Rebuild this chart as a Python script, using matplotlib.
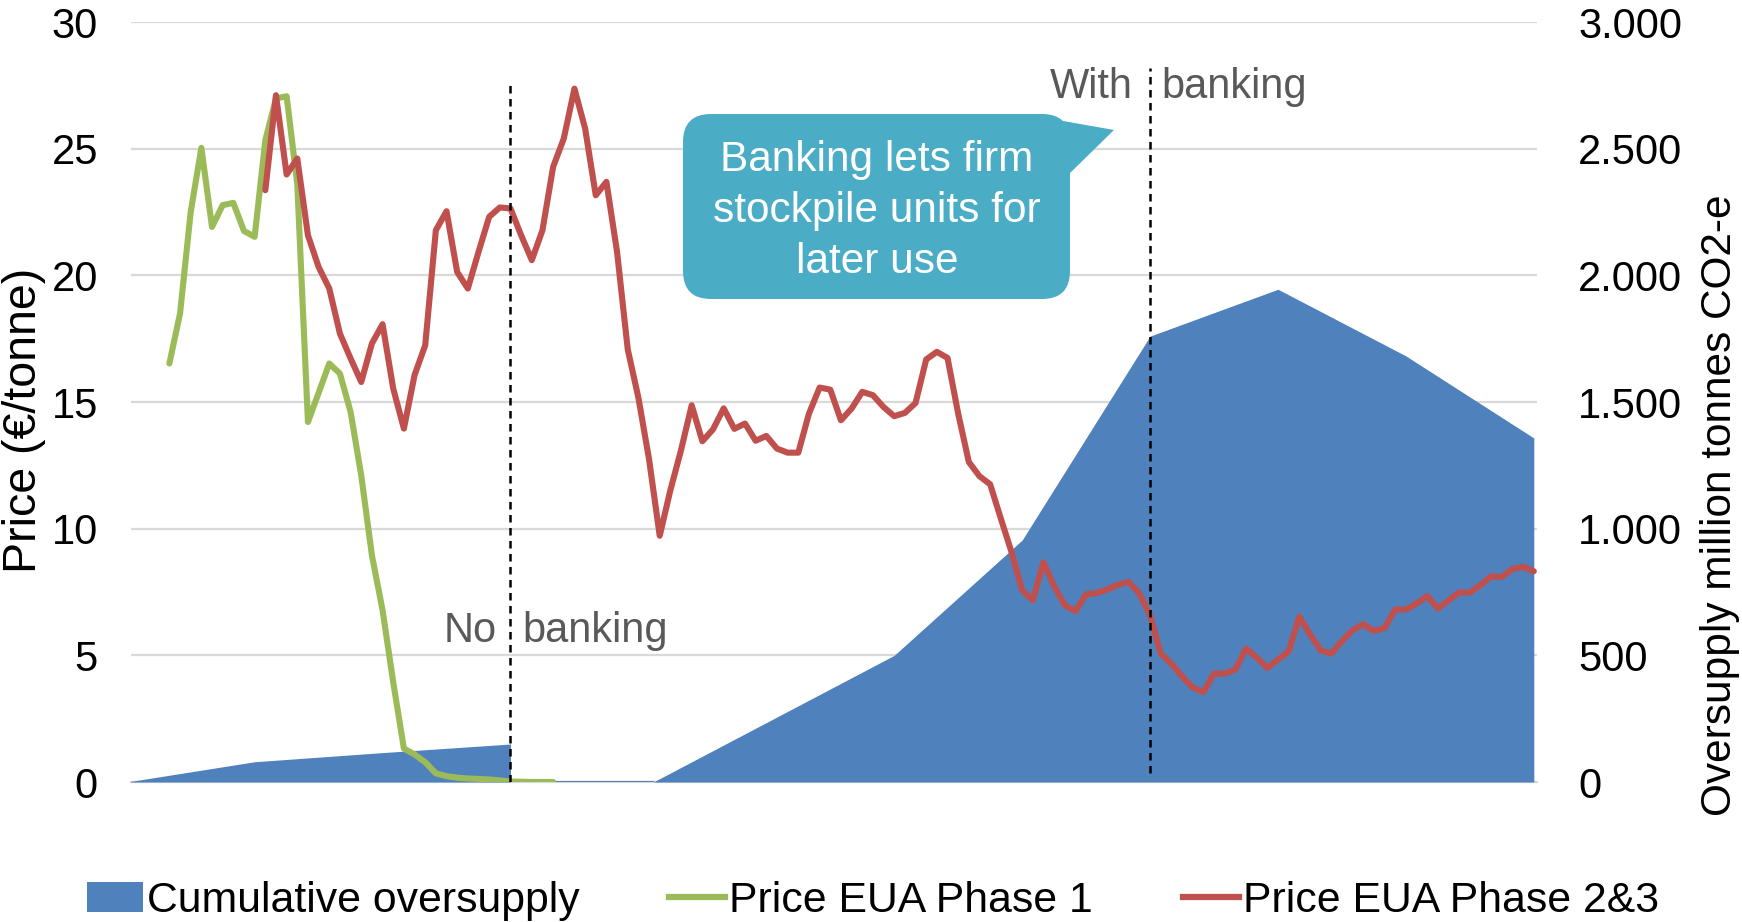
import matplotlib
matplotlib.use("Agg")
import matplotlib.pyplot as plt
from matplotlib.patches import FancyBboxPatch, Polygon, Patch
from matplotlib.lines import Line2D

plt.rcParams['font.family'] = ['Liberation Sans', 'DejaVu Sans']

# x axis: month index, 0 = first Phase 1 observation
year_labels = [str(y) for y in range(2005, 2016)]
year_ticks = [1 + 12 * k for k in range(len(year_labels))]

# Price EUA Phase 1 (EUR/tonne), monthly
phase1_start = 0
phase1 = [16.52, 18.49, 22.50, 25.03, 21.91, 22.77, 22.86, 21.75, 21.52, 25.33,
          26.98, 27.07, 23.6, 14.21, 15.36, 16.52, 16.12, 14.61, 12.1, 8.95,
          6.78, 3.94, 1.32, 1.09, 0.78, 0.34, 0.23, 0.17, 0.14, 0.12,
          0.10, 0.06, 0.02, 0.01, 0.0, 0.0, 0.0]

# Price EUA Phase 2&3 (EUR/tonne), monthly
phase23_start = 9
phase23 = [23.36, 27.11, 23.98, 24.61, 21.58, 20.33, 19.48, 17.70, 16.72, 15.79,
           17.31, 18.07, 15.53, 13.95, 16.06, 17.24, 21.78, 22.53, 20.13, 19.48,
           20.92, 22.31, 22.68, 22.64, 21.58, 20.60, 21.78, 24.28, 25.40, 27.37,
           25.80, 23.16, 23.69, 20.92, 17.08, 15.17, 12.74, 9.72, 11.52, 13.10,
           14.87, 13.45, 13.92, 14.75, 13.94, 14.15, 13.47, 13.66, 13.16, 13.00,
           13.00, 14.54, 15.57, 15.49, 14.28, 14.74, 15.40, 15.27, 14.80, 14.44,
           14.57, 14.96, 16.68, 16.98, 16.74, 14.54, 12.63, 12.07, 11.75, 10.40,
           9.08, 7.57, 7.17, 8.67, 7.73, 6.98, 6.74, 7.41, 7.46, 7.60,
           7.79, 7.90, 7.44, 6.58, 5.07, 4.67, 4.17, 3.73, 3.55, 4.28,
           4.28, 4.44, 5.27, 4.91, 4.50, 4.83, 5.15, 6.53, 5.83, 5.20,
           5.07, 5.57, 5.99, 6.23, 5.96, 6.08, 6.81, 6.81, 7.04, 7.34,
           6.85, 7.17, 7.48, 7.48, 7.77, 8.12, 8.09, 8.41, 8.49, 8.32]

# Cumulative oversupply (million tonnes CO2-e)
oversupply_month = [-4, 8, 20, 32, 32, 45.4, 68, 80, 92, 104, 116, 128]
oversupply = [0, 80, 116, 150, 0, 0, 500, 955, 1760, 1945, 1682, 1358]

# regime change markers (month index)
breaks = [32, 92]

BLUE = '#4F81BD'
GREEN = '#9BBB59'
RED = '#C0504D'
TEAL = '#4BACC6'
GRID = '#D9D9D9'
NOTE = '#595959'

W, H = 1742, 922
fig = plt.figure(figsize=(W / 100, H / 100), dpi=100)
ax2 = fig.add_axes([131 / W, 1 - 782 / H, (1537 - 131) / W, (782 - 22) / H])
ax = ax2.twinx()
ax.set_zorder(ax2.get_zorder() + 1)
ax.patch.set_visible(False)

# area on right axis, grid behind it
ax2.fill_between(oversupply_month, oversupply, 0, color=BLUE, lw=0, zorder=2)
ax2.plot([32, 45.4], [0, 0], color=BLUE, lw=1.5, zorder=2)
ax2.set_ylim(0, 3000)
ax2.set_yticks(range(0, 3001, 500))
ax2.grid(axis='y', color=GRID, lw=1.6)
ax2.set_axisbelow(True)

x1 = [phase1_start + i for i in range(len(phase1))]
x23 = [phase23_start + i for i in range(len(phase23))]
ax.plot(x1, phase1, color=GREEN, lw=4.4, solid_joinstyle='round', solid_capstyle='round', zorder=3)
ax.plot(x23, phase23, color=RED, lw=4.4, solid_joinstyle='round', solid_capstyle='round', zorder=4)
ax.set_ylim(0, 30)
ax.set_yticks(range(0, 31, 5))
ax.set_xlim(-3.6, 128.3)
ax2.set_xlim(-3.6, 128.3)

ax.vlines(breaks[0], 0, 27.64, colors='black', linestyles=(0, (3, 2.2)), lw=1.8, zorder=5)
ax.vlines(breaks[1], 0.34, 28.2, colors='black', linestyles=(0, (3, 2.2)), lw=1.8, zorder=5)

ax.text(30.74, 5.52, 'No', ha='right', va='baseline', fontsize=30, color=NOTE, zorder=6)
ax.text(33.09, 5.52, 'banking', ha='left', va='baseline', fontsize=30, color=NOTE, zorder=6)
ax.text(90.4, 26.99, 'With', ha='right', va='baseline', fontsize=30, color=NOTE, zorder=6)
ax.text(93.03, 26.99, 'banking', ha='left', va='baseline', fontsize=30, color=NOTE, zorder=6)

# axes styling: left labels = price, right labels = oversupply
ax2.set_xticks(year_ticks)
ax2.set_xticklabels(year_labels)
ax2.yaxis.tick_right()
ax2.set_yticklabels(['0', '500', '1.000', '1.500', '2.000', '2.500', '3.000'])
ax.yaxis.tick_left()
ax.set_yticklabels([str(v) for v in range(0, 31, 5)])
ax.set_xticks([])
ax2.tick_params(axis='x', length=0, pad=21, labelsize=30)
ax2.tick_params(axis='y', length=0, pad=29.5, labelsize=30)
ax.tick_params(axis='y', length=0, pad=23.8, labelsize=30)
for a in (ax, ax2):
    for s in ('top', 'left', 'right', 'bottom'):
        a.spines[s].set_visible(False)
ax2.spines['bottom'].set_visible(True)
ax2.spines['bottom'].set_color(GRID)
ax2.spines['bottom'].set_linewidth(1.6)
ax2.spines['bottom'].set_zorder(1)

fig.text(24 / W, 1 - 420 / H, 'Price (€/tonne)', rotation=90, ha='center', va='center', fontsize=33.5)
fig.text(1720 / W, 1 - 505 / H, 'Oversupply million tonnes CO2-e', rotation=90,
         ha='center', va='center', fontsize=30.5)

# callout in pixel coordinates
ov = fig.add_axes([0, 0, 1, 1], zorder=10)
ov.set_xlim(0, W)
ov.set_ylim(H, 0)
ov.axis('off')
ov.add_patch(Polygon([(1035, 116), (1068, 175), (1114, 130)], closed=True, color=TEAL, lw=0))
ov.add_patch(FancyBboxPatch((683, 114), 387, 185, boxstyle='round,pad=0,rounding_size=28',
                            fc=TEAL, ec='none'))
ov.text(877, 211, 'Banking lets firm\nstockpile units for\nlater use', ha='center', va='center',
        fontsize=30.5, color='white', linespacing=1.34)

handles = [Patch(facecolor=BLUE, edgecolor='none'),
           Line2D([], [], color=GREEN, lw=4.5),
           Line2D([], [], color=RED, lw=4.5)]
fig.legend(handles, ['Cumulative oversupply', 'Price EUA Phase 1', 'Price EUA Phase 2&3'],
           loc='center', bbox_to_anchor=(873 / W, 1 - 901 / H), ncol=3, frameon=False,
           fontsize=30.8, handlelength=1.3, handletextpad=0.1, columnspacing=2.1,
           borderaxespad=0, borderpad=0)

fig.savefig('out.png', dpi=100)
